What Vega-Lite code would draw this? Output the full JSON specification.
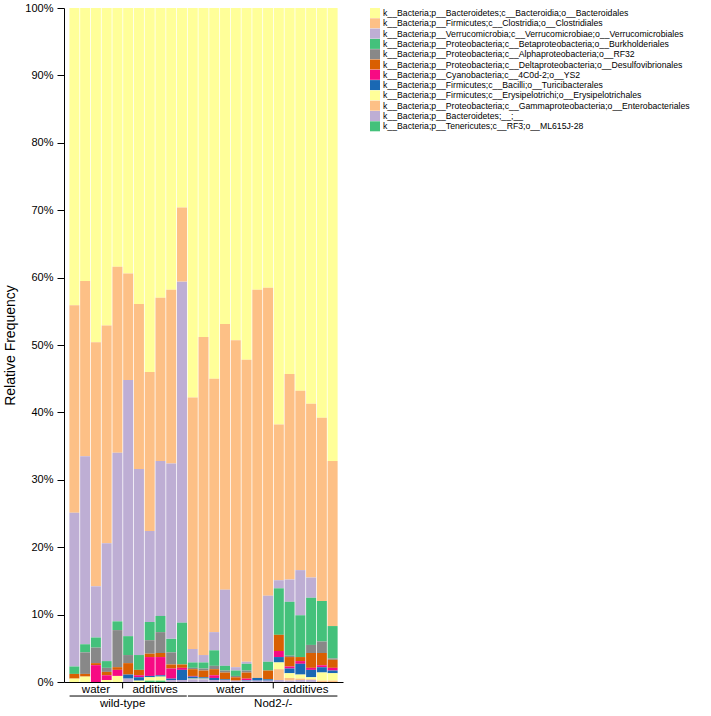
{
  "$schema": "https://vega.github.io/schema/vega-lite/v6.json",
  "width": 279,
  "height": 674,
  "autosize": "none",
  "padding": {"left": 64, "top": 8, "right": 368, "bottom": 34},
  "config": {
    "font": "Liberation Sans",
    "view": {"stroke": null},
    "axis": {"labelColor": "black", "titleColor": "black", "domainColor": "black", "tickColor": "black"}
  },
  "datasets": {
    "samples": [
      {"s": 1, "genotype": "wild-type", "treatment": "water", "Bd": 44.1, "Cl": 30.8, "Ve": 22.8, "Bu": 1.1, "De": 0.7, "Er": 0.5},
      {"s": 2, "genotype": "wild-type", "treatment": "water", "Bd": 40.5, "Cl": 26.0, "Ve": 27.9, "Bu": 1.2, "RF": 3.2, "De": 0.4, "Er": 0.8},
      {"s": 3, "genotype": "wild-type", "treatment": "water", "Bd": 49.6, "Cl": 36.2, "Ve": 7.6, "Bu": 1.5, "RF": 2.3, "De": 0.3, "YS": 2.5},
      {"s": 4, "genotype": "wild-type", "treatment": "water", "Bd": 47.1, "Cl": 32.3, "Ve": 17.5, "Bu": 1.0, "RF": 0.6, "De": 0.5, "YS": 0.7, "Er": 0.3},
      {"s": 5, "genotype": "wild-type", "treatment": "water", "Bd": 38.4, "Cl": 27.6, "Ve": 25.0, "Bu": 1.3, "RF": 5.5, "De": 0.4, "YS": 0.9, "Er": 0.9},
      {"s": 6, "genotype": "wild-type", "treatment": "additives", "Bd": 39.4, "Cl": 15.8, "Ve": 38.0, "Bu": 2.8, "RF": 1.2, "De": 1.7, "Tu": 0.6, "Bx": 0.5},
      {"s": 7, "genotype": "wild-type", "treatment": "additives", "Bd": 43.9, "Cl": 24.5, "Ve": 27.6, "Bu": 2.2, "De": 0.8, "YS": 0.3, "Tu": 0.5, "Er": 0.2},
      {"s": 8, "genotype": "wild-type", "treatment": "additives", "Bd": 54.0, "Cl": 23.6, "Ve": 13.5, "Bu": 2.7, "RF": 2.0, "De": 0.5, "YS": 2.8, "Tu": 0.2, "Er": 0.5, "Te": 0.2},
      {"s": 9, "genotype": "wild-type", "treatment": "additives", "Bd": 43.0, "Cl": 24.2, "Ve": 23.0, "Bu": 2.4, "RF": 3.1, "De": 0.6, "YS": 2.7, "Tu": 0.2, "Er": 0.6, "Te": 0.2},
      {"s": 10, "genotype": "wild-type", "treatment": "additives", "Bd": 41.8, "Cl": 25.8, "Ve": 26.0, "Bu": 2.0, "RF": 1.8, "De": 0.6, "YS": 1.5, "Tu": 0.2, "Bx": 0.3},
      {"s": 11, "genotype": "wild-type", "treatment": "additives", "Bd": 29.6, "Cl": 11.0, "Ve": 50.6, "Bu": 6.2, "De": 0.5, "YS": 0.3, "Tu": 1.5, "Bx": 0.3},
      {"s": 12, "genotype": "Nod2-/-", "treatment": "water", "Bd": 57.8, "Cl": 37.3, "Ve": 2.0, "Bu": 0.8, "RF": 0.2, "De": 1.0, "YS": 0.1, "Tu": 0.3, "Er": 0.1, "Bx": 0.4},
      {"s": 13, "genotype": "Nod2-/-", "treatment": "water", "Bd": 48.8, "Cl": 47.2, "Ve": 1.1, "Bu": 0.9, "RF": 0.3, "De": 1.0, "Tu": 0.2, "Er": 0.1, "Bx": 0.4},
      {"s": 14, "genotype": "Nod2-/-", "treatment": "water", "Bd": 55.0, "Cl": 37.6, "Ve": 2.7, "Bu": 2.3, "RF": 0.5, "De": 0.9, "YS": 0.4, "Tu": 0.3, "Bx": 0.3},
      {"s": 15, "genotype": "Nod2-/-", "treatment": "water", "Bd": 46.9, "Cl": 39.4, "Ve": 11.3, "Bu": 0.7, "RF": 0.3, "De": 1.0, "Tu": 0.1, "Bx": 0.3},
      {"s": 16, "genotype": "Nod2-/-", "treatment": "water", "Bd": 49.3, "Cl": 48.5, "Ve": 0.5, "Bu": 0.8, "RF": 0.2, "De": 0.5, "Bx": 0.2},
      {"s": 17, "genotype": "Nod2-/-", "treatment": "water", "Bd": 52.2, "Cl": 44.8, "Ve": 0.3, "Bu": 1.0, "RF": 0.3, "De": 0.9, "YS": 0.2, "Tu": 0.1, "Bx": 0.2},
      {"s": 18, "genotype": "Nod2-/-", "treatment": "water", "Bd": 41.8, "Cl": 57.6, "Tu": 0.4, "Bx": 0.2},
      {"s": 19, "genotype": "Nod2-/-", "treatment": "water", "Bd": 41.5, "Cl": 45.7, "Ve": 9.8, "Bu": 1.3, "De": 1.3, "Tu": 0.2, "Bx": 0.2},
      {"s": 20, "genotype": "Nod2-/-", "treatment": "additives", "Bd": 61.8, "Cl": 23.1, "Ve": 1.2, "Bu": 6.9, "De": 2.4, "YS": 0.9, "Tu": 0.8, "Er": 1.0, "En": 1.6, "Bx": 0.3},
      {"s": 21, "genotype": "Nod2-/-", "treatment": "additives", "Bd": 54.3, "Cl": 30.5, "Ve": 3.3, "Bu": 8.0, "RF": 0.2, "De": 1.4, "YS": 0.3, "Tu": 0.7, "Er": 0.7, "En": 0.4, "Bx": 0.2},
      {"s": 22, "genotype": "Nod2-/-", "treatment": "additives", "Bd": 56.8, "Cl": 26.6, "Ve": 6.7, "Bu": 6.2, "De": 0.6, "YS": 0.4, "Tu": 1.6, "Er": 0.6, "En": 0.2, "Bx": 0.3},
      {"s": 23, "genotype": "Nod2-/-", "treatment": "additives", "Bd": 58.7, "Cl": 25.8, "Ve": 3.0, "Bu": 7.0, "RF": 1.2, "De": 2.2, "YS": 0.3, "Tu": 1.1, "Er": 0.3, "En": 0.1, "Bx": 0.3},
      {"s": 24, "genotype": "Nod2-/-", "treatment": "additives", "Bd": 60.8, "Cl": 27.2, "Bu": 6.0, "RF": 1.7, "De": 1.8, "YS": 0.3, "Tu": 0.8, "Er": 1.2, "En": 0.2},
      {"s": 25, "genotype": "Nod2-/-", "treatment": "additives", "Bd": 67.2, "Cl": 24.5, "Bu": 4.8, "RF": 0.2, "De": 1.2, "YS": 0.4, "Tu": 0.4, "Er": 1.1, "En": 0.2}
    ],
    "taxa": [
      {"code": "Bd", "rank": 12, "name": "k__Bacteria;p__Bacteroidetes;c__Bacteroidia;o__Bacteroidales"},
      {"code": "Cl", "rank": 11, "name": "k__Bacteria;p__Firmicutes;c__Clostridia;o__Clostridiales"},
      {"code": "Ve", "rank": 10, "name": "k__Bacteria;p__Verrucomicrobia;c__Verrucomicrobiae;o__Verrucomicrobiales"},
      {"code": "Bu", "rank": 9, "name": "k__Bacteria;p__Proteobacteria;c__Betaproteobacteria;o__Burkholderiales"},
      {"code": "RF", "rank": 8, "name": "k__Bacteria;p__Proteobacteria;c__Alphaproteobacteria;o__RF32"},
      {"code": "De", "rank": 7, "name": "k__Bacteria;p__Proteobacteria;c__Deltaproteobacteria;o__Desulfovibrionales"},
      {"code": "YS", "rank": 6, "name": "k__Bacteria;p__Cyanobacteria;c__4C0d-2;o__YS2"},
      {"code": "Tu", "rank": 5, "name": "k__Bacteria;p__Firmicutes;c__Bacilli;o__Turicibacterales"},
      {"code": "Er", "rank": 4, "name": "k__Bacteria;p__Firmicutes;c__Erysipelotrichi;o__Erysipelotrichales"},
      {"code": "En", "rank": 3, "name": "k__Bacteria;p__Proteobacteria;c__Gammaproteobacteria;o__Enterobacteriales"},
      {"code": "Bx", "rank": 2, "name": "k__Bacteria;p__Bacteroidetes;__;__"},
      {"code": "Te", "rank": 1, "name": "k__Bacteria;p__Tenericutes;c__RF3;o__ML615J-28"}
    ],
    "groups": [
      {"genotype": "wild-type", "treatment": "water", "first": 1, "last": 5},
      {"genotype": "wild-type", "treatment": "additives", "first": 6, "last": 11},
      {"genotype": "Nod2-/-", "treatment": "water", "first": 12, "last": 19},
      {"genotype": "Nod2-/-", "treatment": "additives", "first": 20, "last": 25}
    ]
  },
  "layer": [
    {
      "data": {"name": "samples"},
      "transform": [
        {"fold": ["Bd", "Cl", "Ve", "Bu", "RF", "De", "YS", "Tu", "Er", "En", "Bx", "Te"], "as": ["code", "pct"]},
        {"filter": "isValid(datum.pct)"},
        {"lookup": "code", "from": {"data": {"name": "taxa"}, "key": "code", "fields": ["name", "rank"]}}
      ],
      "mark": {"type": "bar", "width": 10},
      "encoding": {
        "x": {"field": "s", "type": "quantitative", "title": null, "scale": {"domain": [0.5, 25.5], "nice": false, "zero": false},
              "axis": {"domain": true, "ticks": false, "labels": false, "grid": false, "title": null}},
        "y": {"field": "pct", "type": "quantitative", "stack": "zero", "title": "Relative Frequency",
              "scale": {"domain": [0, 100], "nice": false},
              "axis": {"values": [0, 10, 20, 30, 40, 50, 60, 70, 80, 90, 100], "labelExpr": "datum.value + '%'", "grid": false,
                       "tickSize": 7, "labelPadding": 4, "labelFontSize": 11, "titleFontSize": 14, "titleFontWeight": "normal", "titlePadding": 7}},
        "color": {"field": "name", "type": "nominal",
                  "scale": {"domain": [
                    "k__Bacteria;p__Bacteroidetes;c__Bacteroidia;o__Bacteroidales",
                    "k__Bacteria;p__Firmicutes;c__Clostridia;o__Clostridiales",
                    "k__Bacteria;p__Verrucomicrobia;c__Verrucomicrobiae;o__Verrucomicrobiales",
                    "k__Bacteria;p__Proteobacteria;c__Betaproteobacteria;o__Burkholderiales",
                    "k__Bacteria;p__Proteobacteria;c__Alphaproteobacteria;o__RF32",
                    "k__Bacteria;p__Proteobacteria;c__Deltaproteobacteria;o__Desulfovibrionales",
                    "k__Bacteria;p__Cyanobacteria;c__4C0d-2;o__YS2",
                    "k__Bacteria;p__Firmicutes;c__Bacilli;o__Turicibacterales",
                    "k__Bacteria;p__Firmicutes;c__Erysipelotrichi;o__Erysipelotrichales",
                    "k__Bacteria;p__Proteobacteria;c__Gammaproteobacteria;o__Enterobacteriales",
                    "k__Bacteria;p__Bacteroidetes;__;__",
                    "k__Bacteria;p__Tenericutes;c__RF3;o__ML615J-28"],
                    "range": ["#FFFF99", "#FDC086", "#BEAED4", "#44C17B", "#888888", "#D95F02", "#F70A83", "#1A68B3", "#FFFF99", "#FDC086", "#BEAED4", "#44C17B"]},
                  "legend": {"title": null, "orient": "right", "offset": 27, "padding": 0, "symbolType": "square", "symbolSize": 100,
                             "symbolStrokeWidth": 0, "labelFontSize": 8.7, "labelLimit": 0, "labelOffset": 3, "rowPadding": 0.3, "labelColor": "black"}},
        "order": {"field": "rank", "type": "quantitative", "sort": "ascending"}
      }
    },
    {
      "data": {"name": "groups"},
      "transform": [{"filter": "datum.treatment == 'additives'"}],
      "mark": {"type": "rule", "color": "black", "strokeWidth": 1, "xOffset": -5.56},
      "encoding": {
        "x": {"field": "first", "type": "quantitative", "title": null, "scale": {"domain": [0.5, 25.5], "nice": false, "zero": false}},
        "y": {"datum": 0, "type": "quantitative", "scale": {"domain": [0, 100], "nice": false}, "title": null},
        "y2": {"datum": -0.95}
      }
    },
    {
      "data": {"name": "groups"},
      "transform": [{"aggregate": [{"op": "min", "field": "first", "as": "lo"}, {"op": "max", "field": "last", "as": "hi"}], "groupby": ["genotype"]}],
      "mark": {"type": "rule", "color": "black", "strokeWidth": 1, "xOffset": -4.8, "x2Offset": 4.8},
      "encoding": {
        "x": {"field": "lo", "type": "quantitative", "title": null, "scale": {"domain": [0.5, 25.5], "nice": false, "zero": false}},
        "x2": {"field": "hi"},
        "y": {"datum": -2.08, "type": "quantitative", "scale": {"domain": [0, 100], "nice": false}, "title": null}
      }
    },
    {
      "data": {"name": "samples"},
      "mark": {"type": "text", "fontSize": 11.5, "color": "black", "baseline": "alphabetic", "align": "center"},
      "encoding": {
        "x": {"aggregate": "mean", "field": "s", "type": "quantitative", "title": null, "scale": {"domain": [0.5, 25.5], "nice": false, "zero": false}},
        "y": {"datum": -1.63, "type": "quantitative", "scale": {"domain": [0, 100], "nice": false}, "title": null},
        "detail": {"field": "genotype", "type": "nominal"},
        "text": {"field": "treatment", "type": "nominal"}
      }
    },
    {
      "data": {"name": "groups"},
      "transform": [{"filter": "datum.treatment == 'additives'"}],
      "mark": {"type": "text", "fontSize": 11.5, "color": "black", "baseline": "alphabetic", "align": "center", "xOffset": -5.56},
      "encoding": {
        "x": {"field": "first", "type": "quantitative", "title": null, "scale": {"domain": [0.5, 25.5], "nice": false, "zero": false}},
        "y": {"datum": -3.64, "type": "quantitative", "scale": {"domain": [0, 100], "nice": false}, "title": null},
        "text": {"field": "genotype", "type": "nominal"}
      }
    }
  ]
}
